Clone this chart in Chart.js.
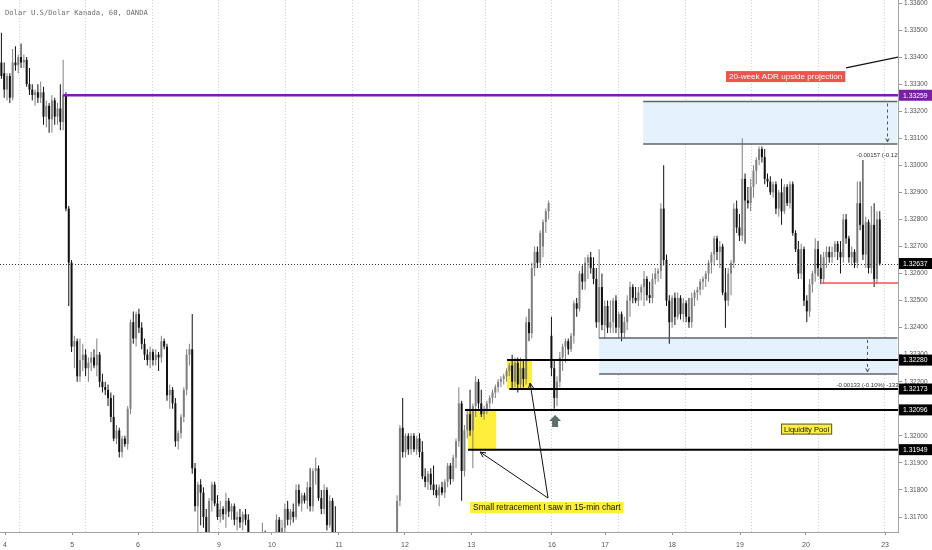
<!DOCTYPE html>
<html>
<head>
<meta charset="utf-8">
<script src="https://cdn.jsdelivr.net/npm/chart.js@4.4.1/dist/chart.umd.min.js"></script>
<style>
  html, body { margin: 0; padding: 0; background: #fff; }
  #wrap { width: 932px; height: 550px; position: relative; }
</style>
</head>
<body>
<div id="wrap"><canvas id="chart"></canvas></div>
<script>
// USD/CAD, 60 min candles (OANDA), one slot per hour
const opens = [
  1.3338,1.3334,1.3328,1.3333,1.3325,1.3338,1.3337,1.3340,1.3338,1.3339,
  1.3330,1.3328,1.3326,1.3327,1.3325,1.3327,1.3318,1.3322,1.3317,1.3324,
  1.3318,1.3321,1.3316,1.3326,1.3284,1.3264,1.3233,1.3235,1.3222,1.3228,
  1.3230,1.3225,1.3227,1.3229,1.3226,1.3230,1.3220,1.3218,1.3217,1.3214,
  1.3207,1.3199,1.3202,1.3194,1.3199,1.3197,1.3210,1.3242,1.3236,1.3245,
  1.3240,1.3234,1.3230,1.3228,1.3231,1.3228,1.3230,1.3229,1.3235,1.3233,
  1.3215,1.3217,1.3212,1.3198,1.3201,1.3207,1.3217,1.3230,1.3232,1.3188,
  1.3174,1.3182,1.3179,1.3170,1.3164,1.3176,1.3182,1.3175,1.3170,1.3173,
  1.3171,1.3176,1.3172,1.3174,1.3169,1.3170,1.3168,1.3171,1.3169,1.3162,
  1.3158,1.3160,1.3156,1.3158,1.3162,1.3159,1.3156,1.3157,1.3161,1.3169,
  1.3163,1.3166,1.3173,1.3169,1.3172,1.3170,1.3180,1.3175,1.3178,1.3176,
  1.3181,1.3174,1.3187,1.3188,1.3177,1.3173,1.3180,1.3167,1.3176,1.3162,
  1.3160,1.3155,1.3151,1.3150,1.3152,1.3146,1.3145,1.3147,1.3142,1.3140,
  1.3143,1.3139,1.3141,1.3138,1.3140,1.3143,1.3141,1.3144,1.3146,1.3144,
  1.3147,1.3150,1.3176,1.3203,1.3194,1.3200,1.3195,1.3200,1.3195,1.3199,
  1.3194,1.3185,1.3183,1.3186,1.3182,1.3180,1.3178,1.3181,1.3179,1.3183,
  1.3189,1.3184,1.3192,1.3198,1.3212,1.3187,1.3202,1.3208,1.3202,1.3211,
  1.3220,1.3212,1.3208,1.3210,1.3212,1.3214,1.3216,1.3218,1.3220,1.3221,
  1.3222,1.3224,1.3226,1.3220,1.3227,1.3219,1.3225,1.3221,1.3242,1.3238,
  1.3262,1.3268,1.3264,1.3270,1.3279,1.3283,1.3237,1.3225,1.3214,1.3220,
  1.3229,1.3233,1.3235,1.3232,1.3237,1.3249,1.3247,1.3260,1.3257,1.3264,
  1.3266,1.3262,1.3258,1.3242,1.3255,1.3241,1.3248,1.3240,1.3242,1.3250,
  1.3240,1.3245,1.3238,1.3242,1.3250,1.3255,1.3251,1.3250,1.3253,1.3255,
  1.3258,1.3252,1.3251,1.3258,1.3260,1.3261,1.3284,1.3265,1.3250,1.3242,
  1.3251,1.3244,1.3251,1.3245,1.3249,1.3244,1.3242,1.3251,1.3253,1.3254,
  1.3257,1.3258,1.3260,1.3264,1.3267,1.3273,1.3268,1.3270,1.3253,1.3250,
  1.3260,1.3264,1.3284,1.3277,1.3274,1.3295,1.3287,1.3286,1.3292,1.3298,
  1.3302,1.3306,1.3303,1.3295,1.3294,1.3290,1.3293,1.3284,1.3290,1.3283,
  1.3292,1.3286,1.3293,1.3275,1.3269,1.3260,1.3269,1.3250,1.3246,1.3256,
  1.3260,1.3269,1.3262,1.3258,1.3266,1.3268,1.3266,1.3268,1.3271,1.3268,
  1.3266,1.3280,1.3273,1.3266,1.3268,1.3264,1.3286,1.3278,1.3267,1.3279,
  1.3262,1.3278,1.3258,1.3280
];
const highs = [
  1.3349,1.3338,1.3334,1.3334,1.3343,1.3344,1.3341,1.3345,1.3341,1.3340,
  1.3336,1.3330,1.3328,1.3330,1.3331,1.3329,1.3324,1.3323,1.3326,1.3325,
  1.3323,1.3330,1.3339,1.3327,1.3285,1.3265,1.3237,1.3236,1.3236,1.3234,
  1.3232,1.3229,1.3231,1.3232,1.3236,1.3231,1.3223,1.3220,1.3219,1.3216,
  1.3215,1.3204,1.3203,1.3200,1.3200,1.3211,1.3243,1.3246,1.3246,1.3247,
  1.3242,1.3236,1.3232,1.3233,1.3232,1.3232,1.3231,1.3237,1.3236,1.3234,
  1.3219,1.3218,1.3214,1.3202,1.3208,1.3218,1.3232,1.3234,1.3245,1.3190,
  1.3183,1.3184,1.3181,1.3173,1.3177,1.3183,1.3183,1.3178,1.3176,1.3174,
  1.3179,1.3177,1.3175,1.3175,1.3172,1.3173,1.3172,1.3173,1.3171,1.3164,
  1.3164,1.3162,1.3160,1.3168,1.3165,1.3162,1.3160,1.3163,1.3171,1.3170,
  1.3169,1.3175,1.3176,1.3173,1.3175,1.3182,1.3182,1.3179,1.3179,1.3183,
  1.3188,1.3188,1.3192,1.3189,1.3180,1.3182,1.3181,1.3178,1.3177,1.3174,
  1.3161,1.3158,1.3154,1.3155,1.3153,1.3150,1.3149,1.3148,1.3145,1.3145,
  1.3144,1.3143,1.3142,1.3142,1.3145,1.3144,1.3146,1.3148,1.3147,1.3149,
  1.3152,1.3178,1.3204,1.3214,1.3201,1.3201,1.3201,1.3201,1.3200,1.3201,
  1.3198,1.3188,1.3187,1.3188,1.3189,1.3182,1.3182,1.3183,1.3184,1.3190,
  1.3190,1.3193,1.3199,1.3218,1.3213,1.3204,1.3210,1.3217,1.3212,1.3222,
  1.3221,1.3217,1.3211,1.3213,1.3215,1.3217,1.3219,1.3221,1.3222,1.3223,
  1.3225,1.3227,1.3230,1.3229,1.3229,1.3229,1.3228,1.3244,1.3247,1.3264,
  1.3270,1.3270,1.3276,1.3280,1.3284,1.3287,1.3244,1.3228,1.3222,1.3231,
  1.3234,1.3236,1.3236,1.3238,1.3250,1.3251,1.3261,1.3263,1.3266,1.3267,
  1.3268,1.3266,1.3262,1.3269,1.3260,1.3250,1.3250,1.3250,1.3251,1.3252,
  1.3246,1.3246,1.3244,1.3252,1.3257,1.3256,1.3255,1.3255,1.3256,1.3261,
  1.3259,1.3257,1.3260,1.3262,1.3262,1.3286,1.3300,1.3267,1.3252,1.3252,
  1.3253,1.3253,1.3252,1.3251,1.3250,1.3251,1.3253,1.3254,1.3255,1.3258,
  1.3259,1.3261,1.3265,1.3268,1.3274,1.3274,1.3272,1.3271,1.3262,1.3262,
  1.3265,1.3286,1.3287,1.3282,1.3310,1.3297,1.3292,1.3295,1.3300,1.3303,
  1.3307,1.3307,1.3306,1.3297,1.3296,1.3294,1.3294,1.3291,1.3295,1.3293,
  1.3293,1.3294,1.3294,1.3276,1.3272,1.3271,1.3270,1.3252,1.3258,1.3261,
  1.3273,1.3272,1.3267,1.3268,1.3270,1.3270,1.3270,1.3272,1.3272,1.3272,
  1.3282,1.3282,1.3274,1.3270,1.3269,1.3294,1.3294,1.3302,1.3281,1.3280,
  1.3285,1.3286,1.3283,1.3283
];
const lows = [
  1.3332,1.3325,1.3324,1.3323,1.3324,1.3335,1.3334,1.3336,1.3336,1.3329,
  1.3326,1.3324,1.3322,1.3323,1.3323,1.3315,1.3314,1.3312,1.3312,1.3315,
  1.3315,1.3313,1.3313,1.3283,1.3248,1.3231,1.3225,1.3220,1.3220,1.3224,
  1.3222,1.3220,1.3224,1.3225,1.3222,1.3218,1.3216,1.3215,1.3211,1.3205,
  1.3198,1.3197,1.3192,1.3192,1.3196,1.3195,1.3208,1.3234,1.3233,1.3238,
  1.3232,1.3228,1.3226,1.3225,1.3226,1.3226,1.3224,1.3227,1.3232,1.3213,
  1.3210,1.3210,1.3196,1.3195,1.3199,1.3205,1.3215,1.3226,1.3186,1.3172,
  1.3163,1.3167,1.3166,1.3162,1.3163,1.3172,1.3174,1.3169,1.3168,1.3169,
  1.3166,1.3170,1.3169,1.3167,1.3165,1.3166,1.3165,1.3167,1.3160,1.3155,
  1.3154,1.3152,1.3150,1.3155,1.3156,1.3152,1.3150,1.3153,1.3158,1.3161,
  1.3161,1.3162,1.3167,1.3167,1.3168,1.3169,1.3174,1.3172,1.3175,1.3173,
  1.3172,1.3172,1.3182,1.3176,1.3171,1.3171,1.3165,1.3166,1.3160,1.3158,
  1.3152,1.3149,1.3146,1.3147,1.3144,1.3142,1.3141,1.3140,1.3137,1.3138,
  1.3136,1.3137,1.3135,1.3136,1.3138,1.3139,1.3140,1.3142,1.3141,1.3142,
  1.3145,1.3148,1.3174,1.3192,1.3192,1.3193,1.3193,1.3194,1.3193,1.3192,
  1.3184,1.3181,1.3180,1.3180,1.3178,1.3177,1.3174,1.3178,1.3177,1.3181,
  1.3182,1.3183,1.3188,1.3196,1.3176,1.3185,1.3199,1.3200,1.3188,1.3207,
  1.3210,1.3207,1.3206,1.3208,1.3210,1.3212,1.3214,1.3216,1.3218,1.3219,
  1.3220,1.3222,1.3217,1.3218,1.3216,1.3217,1.3218,1.3219,1.3235,1.3236,
  1.3259,1.3262,1.3262,1.3266,1.3275,1.3280,1.3222,1.3210,1.3211,1.3218,
  1.3224,1.3227,1.3230,1.3231,1.3234,1.3244,1.3246,1.3254,1.3254,1.3258,
  1.3260,1.3256,1.3240,1.3236,1.3239,1.3236,1.3238,1.3238,1.3238,1.3238,
  1.3236,1.3235,1.3236,1.3239,1.3244,1.3249,1.3249,1.3248,1.3250,1.3248,
  1.3250,1.3249,1.3249,1.3256,1.3257,1.3258,1.3263,1.3248,1.3234,1.3240,
  1.3241,1.3243,1.3243,1.3242,1.3242,1.3240,1.3240,1.3248,1.3250,1.3252,
  1.3254,1.3255,1.3257,1.3260,1.3263,1.3265,1.3262,1.3252,1.3240,1.3248,
  1.3252,1.3262,1.3275,1.3272,1.3272,1.3271,1.3284,1.3283,1.3288,1.3293,
  1.3300,1.3301,1.3293,1.3292,1.3289,1.3288,1.3282,1.3281,1.3278,1.3282,
  1.3285,1.3284,1.3274,1.3268,1.3258,1.3258,1.3248,1.3242,1.3244,1.3253,
  1.3257,1.3259,1.3256,1.3256,1.3262,1.3264,1.3264,1.3266,1.3265,1.3260,
  1.3264,1.3271,1.3264,1.3263,1.3262,1.3262,1.3276,1.3265,1.3262,1.3260,
  1.3260,1.3255,1.3256,1.3263
];
const closes = [
  1.3333,1.3328,1.3333,1.3325,1.3338,1.3337,1.3340,1.3338,1.3339,1.3330,
  1.3328,1.3326,1.3327,1.3325,1.3327,1.3318,1.3322,1.3317,1.3324,1.3318,
  1.3321,1.3316,1.3326,1.3284,1.3264,1.3233,1.3235,1.3222,1.3228,1.3230,
  1.3225,1.3227,1.3229,1.3226,1.3230,1.3220,1.3218,1.3217,1.3214,1.3207,
  1.3199,1.3202,1.3194,1.3199,1.3197,1.3210,1.3242,1.3236,1.3245,1.3240,
  1.3234,1.3230,1.3228,1.3231,1.3228,1.3230,1.3229,1.3235,1.3233,1.3215,
  1.3217,1.3212,1.3198,1.3201,1.3207,1.3217,1.3230,1.3232,1.3188,1.3174,
  1.3182,1.3179,1.3170,1.3164,1.3176,1.3182,1.3175,1.3170,1.3173,1.3171,
  1.3176,1.3172,1.3174,1.3169,1.3170,1.3168,1.3171,1.3169,1.3162,1.3158,
  1.3160,1.3156,1.3158,1.3162,1.3159,1.3156,1.3157,1.3161,1.3169,1.3163,
  1.3166,1.3173,1.3169,1.3172,1.3170,1.3180,1.3175,1.3178,1.3176,1.3181,
  1.3174,1.3187,1.3188,1.3177,1.3173,1.3180,1.3167,1.3176,1.3162,1.3160,
  1.3155,1.3151,1.3150,1.3152,1.3146,1.3145,1.3147,1.3142,1.3140,1.3143,
  1.3139,1.3141,1.3138,1.3140,1.3143,1.3141,1.3144,1.3146,1.3144,1.3147,
  1.3150,1.3176,1.3203,1.3194,1.3200,1.3195,1.3200,1.3195,1.3199,1.3194,
  1.3185,1.3183,1.3186,1.3182,1.3180,1.3178,1.3181,1.3179,1.3183,1.3189,
  1.3184,1.3192,1.3198,1.3212,1.3187,1.3202,1.3208,1.3202,1.3211,1.3220,
  1.3212,1.3208,1.3210,1.3212,1.3214,1.3216,1.3218,1.3220,1.3221,1.3222,
  1.3224,1.3226,1.3220,1.3227,1.3219,1.3225,1.3221,1.3242,1.3238,1.3262,
  1.3268,1.3264,1.3275,1.3279,1.3283,1.3286,1.3225,1.3214,1.3220,1.3229,
  1.3233,1.3235,1.3232,1.3237,1.3249,1.3247,1.3260,1.3257,1.3264,1.3266,
  1.3262,1.3258,1.3242,1.3255,1.3241,1.3248,1.3240,1.3242,1.3250,1.3240,
  1.3245,1.3238,1.3242,1.3250,1.3255,1.3251,1.3250,1.3253,1.3255,1.3258,
  1.3252,1.3251,1.3258,1.3260,1.3261,1.3284,1.3265,1.3250,1.3242,1.3251,
  1.3244,1.3251,1.3245,1.3249,1.3244,1.3242,1.3251,1.3253,1.3254,1.3257,
  1.3258,1.3260,1.3264,1.3267,1.3273,1.3268,1.3270,1.3253,1.3250,1.3260,
  1.3264,1.3284,1.3277,1.3274,1.3295,1.3287,1.3286,1.3292,1.3298,1.3302,
  1.3306,1.3303,1.3295,1.3294,1.3290,1.3293,1.3284,1.3290,1.3283,1.3292,
  1.3286,1.3293,1.3275,1.3269,1.3260,1.3269,1.3250,1.3246,1.3256,1.3260,
  1.3269,1.3262,1.3258,1.3266,1.3268,1.3266,1.3268,1.3271,1.3268,1.3266,
  1.3280,1.3273,1.3266,1.3268,1.3264,1.3286,1.3278,1.3267,1.3279,1.3262,
  1.3278,1.3258,1.3280,1.32637
];

// axes
const priceTicks = [1.317, 1.318, 1.319, 1.320, 1.321, 1.322, 1.323, 1.324, 1.325, 1.326,
                    1.327, 1.328, 1.329, 1.330, 1.331, 1.332, 1.333, 1.334, 1.335, 1.336];
const dayTicks  = [1.3, 25.2, 48.7, 77.5, 96.4, 120.3, 143.8, 167.4, 196.2, 215.1, 239, 263.2, 286.7, 314.9];
const dayLabels = ['4', '5', '6', '9', '10', '11', '12', '13', '16', '17', '18', '19', '20', '23'];
const gridTicks = [6.3, 30, 53.7, 77.5, 101.2, 125, 148.7, 172.4, 196.2, 219.9, 243.6, 267.4, 291.1, 314.8];

// drawn levels
const levelPrices = [1.32280, 1.32173, 1.32096, 1.31949];
const levelStarts = [180.2, 181, 165.2, 166.3];
const adrPrice = 1.33259;
const lastPrice = 1.32637;
const redPrice = 1.32565;
const tagPrices = [1.33259, 1.32637, 1.32280, 1.32173, 1.32096, 1.31949];
const yellowZones = [
  { from: 166.3, to: 176.3, top: 1.32096, bottom: 1.31949 },
  { from: 180.2, to: 189.1, top: 1.32280, bottom: 1.32173 }
];
const priceRanges = [
  { from: 228.7, to: 319.3, top: 1.33236, bottom: 1.33079, arrowAt: 315.6, text: '-0.00157 (-0.12%) -157' },
  { from: 213, to: 319.3, top: 1.32362, bottom: 1.32229, arrowAt: 308.5, text: '-0.00133 (-0.10%) -133' }
];

const UP = '#808080';
const DOWN = '#111111';
const PURPLE = '#7b1fa2';
const YELLOW = '#ffee3a';
const FONT = '"Liberation Sans", Arial, sans-serif';

Chart.defaults.font.family = FONT;

function candleColor(ctx) {
  const i = ctx.dataIndex;
  return closes[i] >= opens[i] ? UP : DOWN;
}

const wickData = closes.map((c, i) => ({ x: i, y: [lows[i], highs[i]] }));
const bodyData = closes.map((c, i) => ({ x: i, y: [opens[i], c] }));

function arrowHead(ctx, x0, y0, x1, y1, len) {
  const a = Math.atan2(y1 - y0, x1 - x0);
  ctx.beginPath();
  ctx.moveTo(x1 - len * Math.cos(a - 0.45), y1 - len * Math.sin(a - 0.45));
  ctx.lineTo(x1, y1);
  ctx.lineTo(x1 - len * Math.cos(a + 0.45), y1 - len * Math.sin(a + 0.45));
  ctx.stroke();
}

function labelBox(ctx, text, x, yc, size, bg, fg, border) {
  ctx.font = size + 'px ' + FONT;
  const w = ctx.measureText(text).width + 6;
  const h = 11;
  ctx.fillStyle = bg;
  ctx.fillRect(x, yc - h / 2, w, h);
  if (border) {
    ctx.strokeStyle = border;
    ctx.lineWidth = 1;
    ctx.strokeRect(x + 0.5, yc - h / 2 + 0.5, w - 1, h - 1);
  }
  ctx.fillStyle = fg;
  ctx.textAlign = 'left';
  ctx.textBaseline = 'middle';
  ctx.fillText(text, x + 3, yc + 0.5);
}

function hLine(ctx, y, x0, x1, color, width, dash) {
  ctx.beginPath();
  ctx.setLineDash(dash || []);
  ctx.strokeStyle = color;
  ctx.lineWidth = width;
  ctx.moveTo(x0, y);
  ctx.lineTo(x1, y);
  ctx.stroke();
  ctx.setLineDash([]);
}

const overlay = {
  id: 'overlay',
  beforeDatasetsDraw(chart) {
    const { ctx, chartArea: a, scales: { x, y } } = chart;
    ctx.save();
    ctx.beginPath();
    ctx.rect(a.left, a.top, a.right - a.left, a.bottom - a.top);
    ctx.clip();
    priceRanges.forEach(r => {
      const x0 = x.getPixelForValue(r.from), x1 = x.getPixelForValue(r.to);
      const y0 = y.getPixelForValue(r.top), y1 = y.getPixelForValue(r.bottom);
      ctx.fillStyle = '#e4f2fd';
      ctx.fillRect(x0, y0, x1 - x0, y1 - y0);
    });
    yellowZones.forEach(z => {
      const x0 = x.getPixelForValue(z.from), x1 = x.getPixelForValue(z.to);
      const y0 = y.getPixelForValue(z.top), y1 = y.getPixelForValue(z.bottom);
      ctx.fillStyle = YELLOW;
      ctx.fillRect(x0, y0, x1 - x0, y1 - y0);
    });
    ctx.restore();
  },
  afterDatasetsDraw(chart) {
    const { ctx, chartArea: a, scales: { x, y } } = chart;
    ctx.save();
    ctx.beginPath();
    ctx.rect(a.left, a.top, a.right - a.left, a.bottom - a.top);
    ctx.clip();

    // price range tools
    priceRanges.forEach(r => {
      const x0 = x.getPixelForValue(r.from), x1 = x.getPixelForValue(r.to);
      const y0 = y.getPixelForValue(r.top), y1 = y.getPixelForValue(r.bottom);
      hLine(ctx, y0, x0, x1, '#5f6368', 1.5);
      hLine(ctx, y1, x0, x1, '#5f6368', 1.5);
      const xa = Math.round(x.getPixelForValue(r.arrowAt)) + 0.5;
      ctx.beginPath();
      ctx.setLineDash([3, 3]);
      ctx.strokeStyle = '#555';
      ctx.lineWidth = 1;
      ctx.moveTo(xa, y0 + 2);
      ctx.lineTo(xa, y1 - 2);
      ctx.stroke();
      ctx.setLineDash([]);
      arrowHead(ctx, xa, y0, xa, y1 - 2, 4);
      ctx.font = '6px ' + FONT;
      ctx.fillStyle = '#333';
      ctx.textAlign = 'center';
      ctx.textBaseline = 'middle';
      ctx.fillText(r.text, xa, y1 + 11);
    });

    // last price dotted line
    hLine(ctx, Math.round(y.getPixelForValue(lastPrice)) + 0.5, a.left, a.right, '#333', 1, [1, 2]);

    // horizontal levels
    levelPrices.forEach((p, i) => {
      hLine(ctx, y.getPixelForValue(p), x.getPixelForValue(levelStarts[i]), a.right, '#000', 2);
    });
    hLine(ctx, y.getPixelForValue(redPrice), x.getPixelForValue(292.4), a.right, '#ef5350', 1.5);
    hLine(ctx, y.getPixelForValue(adrPrice), x.getPixelForValue(22), a.right, PURPLE, 2.5);

    // callout arrows
    const ox = x.getPixelForValue(194.8), oy = y.getPixelForValue(1.31770);
    [[170.6, 1.31940], [188.4, 1.32195]].forEach(t => {
      const tx = x.getPixelForValue(t[0]), ty = y.getPixelForValue(t[1]);
      ctx.beginPath();
      ctx.strokeStyle = '#111';
      ctx.lineWidth = 1;
      ctx.moveTo(ox, oy);
      ctx.lineTo(tx, ty);
      ctx.stroke();
      arrowHead(ctx, ox, oy, tx, ty, 6);
    });

    // up arrow icon
    const ux = x.getPixelForValue(197.3);
    const uTop = y.getPixelForValue(1.32077), uBot = y.getPixelForValue(1.32033);
    ctx.fillStyle = '#5e6e69';
    ctx.beginPath();
    ctx.moveTo(ux, uTop);
    ctx.lineTo(ux + 6, uTop + 6);
    ctx.lineTo(ux + 3, uTop + 6);
    ctx.lineTo(ux + 3, uBot);
    ctx.lineTo(ux - 3, uBot);
    ctx.lineTo(ux - 3, uTop + 6);
    ctx.lineTo(ux - 6, uTop + 6);
    ctx.closePath();
    ctx.fill();

    // text notes
    labelBox(ctx, 'Small retracement I saw in 15-min chart',
      x.getPixelForValue(167), y.getPixelForValue(1.31735), 8.4, YELLOW, '#111');
    labelBox(ctx, 'Liquidity Pool',
      x.getPixelForValue(277.8), y.getPixelForValue(1.32025), 7.6, YELLOW, '#111', '#555');
    labelBox(ctx, '20-week ADR upside projection',
      x.getPixelForValue(258.2), y.getPixelForValue(1.33328), 8.1, '#ef5350', '#fff');

    // pointer to the ADR level
    ctx.beginPath();
    ctx.strokeStyle = '#111';
    ctx.lineWidth = 1.2;
    ctx.moveTo(x.getPixelForValue(301), y.getPixelForValue(1.33360));
    ctx.lineTo(x.getPixelForValue(319.5), y.getPixelForValue(1.33400));
    ctx.stroke();
    ctx.restore();
  },
  afterDraw(chart) {
    const { ctx, chartArea: a, scales: { y } } = chart;
    ctx.save();
    tagPrices.forEach((p, i) => {
      const yy = y.getPixelForValue(p);
      ctx.fillStyle = i === 0 ? PURPLE : '#000';
      ctx.fillRect(a.right + 1, yy - 5.5, chart.width - a.right - 1, 11);
      ctx.font = '6.8px ' + FONT;
      ctx.fillStyle = '#fff';
      ctx.textAlign = 'left';
      ctx.textBaseline = 'middle';
      ctx.fillText(p.toFixed(5), a.right + 5, yy + 0.5);
    });
    ctx.font = '7.2px "DejaVu Sans Mono", monospace';
    ctx.fillStyle = '#707070';
    ctx.textAlign = 'left';
    ctx.textBaseline = 'middle';
    ctx.fillText('Dolar U.S/Dolar Kanada, 60, OANDA', 5, 13);
    ctx.restore();
  }
};

new Chart(document.getElementById('chart'), {
  type: 'bar',
  data: {
    datasets: [
      {
        data: wickData, backgroundColor: candleColor, grouped: false,
        barThickness: 1, inflateAmount: 0, borderWidth: 0, clip: 0, order: 2
      },
      {
        data: bodyData, backgroundColor: candleColor, grouped: false,
        barThickness: 2, minBarLength: 1, inflateAmount: 0, borderWidth: 0, clip: 0, order: 1
      }
    ]
  },
  options: {
    responsive: true,
    maintainAspectRatio: false,
    animation: false,
    devicePixelRatio: 1,
    layout: { padding: 0 },
    plugins: { legend: { display: false }, tooltip: { enabled: false } },
    scales: {
      gx: {
        type: 'linear', position: 'bottom', min: -0.5, max: 319.5, offset: false,
        afterBuildTicks: s => { s.ticks = gridTicks.map(v => ({ value: v })); },
        ticks: { display: false },
        grid: { drawTicks: false, offset: false, color: '#d0d0d0', lineWidth: 1 },
        border: { display: false, dash: [1, 2] },
        afterFit: s => { s.height = 0; s.paddingLeft = 0; s.paddingRight = 0; }
      },
      x: {
        type: 'linear', position: 'bottom', min: -0.5, max: 319.5, offset: false,
        afterBuildTicks: s => { s.ticks = dayTicks.map(v => ({ value: v })); },
        ticks: {
          autoSkip: false, maxRotation: 0, padding: 6, color: '#555', font: { size: 7 },
          callback: (v, i) => dayLabels[i]
        },
        grid: { drawOnChartArea: false, drawTicks: true, tickLength: 3, offset: false, color: '#999' },
        border: { display: true, color: '#a3a3a3' },
        afterFit: s => { s.height = 18; s.paddingLeft = 0; s.paddingRight = 0; }
      },
      y: {
        type: 'linear', position: 'right', min: 1.316446, max: 1.336111, beginAtZero: false,
        afterBuildTicks: s => { s.ticks = priceTicks.map(v => ({ value: v })); },
        ticks: {
          autoSkip: false, padding: 2, color: '#555', font: { size: 6.5 },
          callback: v => v.toFixed(5)
        },
        grid: { drawOnChartArea: false, drawTicks: true, tickLength: 4, color: '#999' },
        border: { display: true, color: '#a3a3a3' },
        afterFit: s => { s.width = 34; s.paddingTop = 0; s.paddingBottom = 0; }
      }
    }
  },
  plugins: [overlay]
});
</script>
</body>
</html>
